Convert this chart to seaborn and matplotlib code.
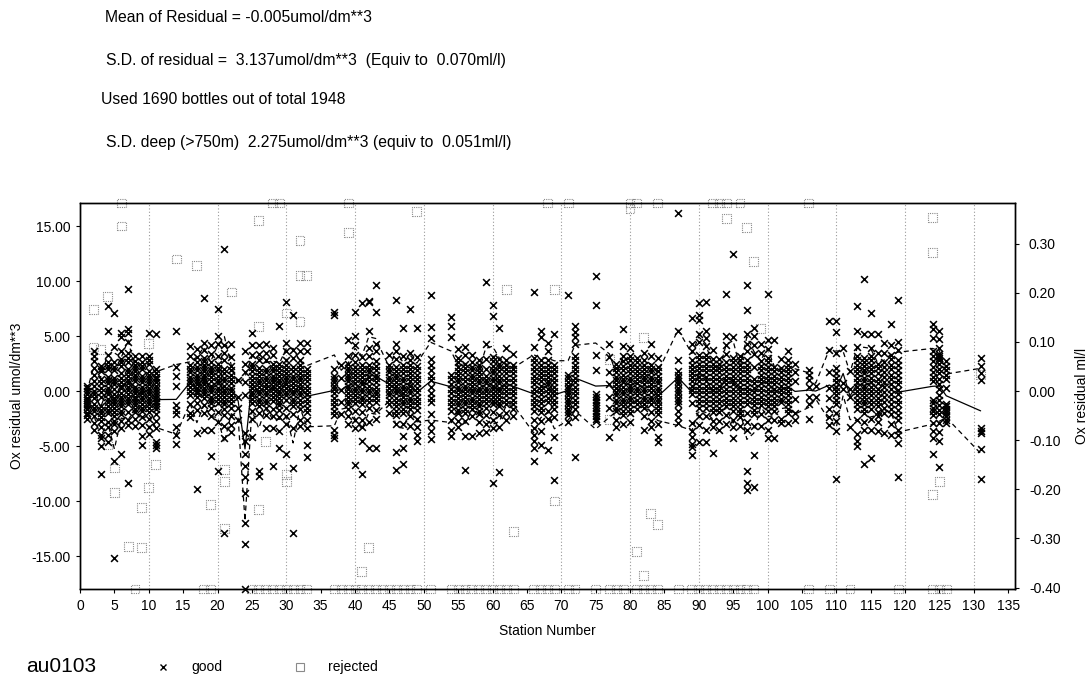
import numpy as np
import pandas as pd
import matplotlib
matplotlib.use("Agg")
import matplotlib.pyplot as plt
from matplotlib.lines import Line2D
from matplotlib.ticker import FuncFormatter
import seaborn as sns

# ---------------- header text ----------------
header_lines = [
    "Mean of Residual = -0.005umol/dm**3",
    "S.D. of residual =  3.137umol/dm**3  (Equiv to  0.070ml/l)",
    "Used 1690 bottles out of total 1948",
    "S.D. deep (>750m)  2.275umol/dm**3 (equiv to  0.051ml/l)",
]
cruise_label = "au0103"
x_label = "Station Number"
y_label_left = "Ox residual umol/dm**3"
y_label_right = "Ox residual ml/l"
UMOL_PER_ML = 44.66

# ---------------- good residuals (umol/dm**3), per station ----------------
good_stations = [1, 2, 3, 4, 5, 6, 7, 8, 9, 10, 11, 14, 16, 17, 18, 19, 20, 21, 22, 23,
                 24, 25, 26, 27, 28, 29, 30, 31, 32, 33, 37, 38, 39, 40, 41, 42, 43, 45, 46, 47,
                 48, 49, 51, 54, 55, 56, 57, 58, 59, 60, 61, 62, 63, 66, 67, 68, 69, 71, 72, 75,
                 77, 78, 79, 80, 81, 82, 83, 84, 87, 89, 90, 91, 92, 93, 94, 95, 96, 97, 98, 99,
                 100, 101, 102, 103, 104, 106, 107, 109, 110, 111, 112, 113, 114, 115, 116, 117,
                 118, 119, 124, 125, 126, 131]
good_values = [
    "0.5 -0.3 -0.8 -1.2 -1.6 -2.0 -2.5 0.0 -1.0 0.3 -0.6 -1.4 -2.2",
    "3.6 2.7 1.5 0.5 0.0 -0.6 -1.2 -1.8 -2.3 -2.9 -3.5 3.2 2.1 0.9 -0.3 -1.5",
    "2.3 1.8 1.1 0.3 -0.5 -1.4 -2.0 -2.7 -3.3 -4.0 -4.3 -5.0 -7.5 2.0 0.7 -0.1 -1.7 -2.4",
    "7.7 5.5 3.3 2.6 2.0 1.3 0.7 0.0 -0.7 -1.4 -2.0 -2.8 -3.3 -4.0 -4.6 2.3 1.0 0.3 -0.3 -1.0 -1.7",
    "7.1 4.0 2.6 1.9 1.2 0.6 0.2 -0.3 -0.9 -1.5 -2.3 -3.0 -3.6 -6.4 -15.2 2.2 0.9 -0.6 -1.2 -1.9 -2.7",
    "5.3 4.9 3.6 2.9 2.3 1.6 0.8 0.3 -0.2 -0.8 -1.4 -2.1 -2.7 -3.4 -5.7 2.6 1.2 0.5 -0.5 -1.1 -1.8",
    "9.3 5.6 5.3 4.5 3.5 2.6 2.0 1.4 0.7 0.1 -0.6 -1.2 -1.9 -2.6 -3.1 -8.4 3.0 1.7 1.0 0.4 -0.3 -0.9",
    "3.2 2.7 2.1 1.5 0.9 0.4 -0.2 -0.7 -1.3 -1.9 -2.5 -3.2 2.4 1.8 1.2 0.1 -0.5 -1.0 -1.6",
    "3.2 2.6 2.0 1.4 0.8 0.1 -0.5 -1.2 -1.8 -2.4 -3.1 -4.1 -4.9 2.3 1.1 0.4 -0.2 -0.8 -1.5",
    "5.3 3.2 2.5 1.8 1.2 0.6 0.0 -0.6 -1.2 -1.9 -2.5 -3.3 -3.9 2.8 1.5 0.9 0.3 -0.3 -0.9 -1.5",
    "5.2 2.0 1.6 1.1 0.5 -0.1 -0.6 -1.1 -1.6 -2.1 -2.7 -3.4 -4.6 -4.9 -5.2 1.3 0.8 0.2 -0.4 -0.9 -1.4",
    "5.5 2.2 1.4 0.5 -1.3 -1.7 -2.1 -3.3 -4.0 -4.8",
    "4.1 3.2 2.4 1.7 1.0 0.4 -0.4 -1.2 -2.0 -2.4 2.0 1.3 0.7 0.0",
    "3.8 3.1 2.6 1.9 1.2 0.6 0.0 -0.5 -1.1 -1.7 -3.8 -8.9 2.2 1.5 0.9 0.3 -0.2",
    "8.5 4.4 3.7 3.0 2.4 1.8 1.2 0.6 0.0 -0.6 -1.3 -2.0 -3.5 2.7 2.1 1.5 0.9 0.3 -0.3",
    "4.2 3.4 2.6 1.9 1.3 0.5 -0.1 -0.8 -1.5 -2.3 -3.5 -5.9 2.2 1.6 0.9 0.2 -0.5 -1.1",
    "7.5 5.0 4.3 3.2 2.5 1.8 1.0 0.3 -0.4 -1.1 -1.9 -2.8 -7.3 2.1 1.4 0.7 0.0 -0.7",
    "12.9 4.2 3.5 2.8 2.0 1.2 0.5 -0.2 -0.9 -1.6 -2.2 -3.2 -4.3 -12.9 1.6 0.9 0.1 -0.5 -1.2",
    "4.3 3.1 2.3 1.5 0.7 0.0 -0.7 -1.5 -2.3 -3.1 -3.7 1.9 1.1 0.3 -0.4 -1.1",
    "1.0 -0.5 -1.5 -2.6",
    "3.6 2.5 1.7 0.8 -0.4 -3.8 -4.5 -5.7 -6.8 -7.8 -9.3 -12.0 -13.9 -18.0",
    "5.3 4.2 3.3 2.5 1.8 1.0 0.3 -0.4 -1.1 -1.8 -2.5 -4.2 2.2 1.4 0.6 -0.1 -0.7",
    "4.2 3.4 2.8 2.1 1.4 0.7 0.0 -0.7 -1.4 -2.0 -7.3 -7.7 1.7 1.0 0.4 -0.3 -1.0",
    "4.3 3.5 2.8 2.0 1.3 0.6 -0.1 -0.8 -1.5 -2.2 -3.4 1.7 1.0 0.3 -0.4 -1.1",
    "3.9 3.3 2.5 1.8 1.1 0.5 -0.2 -0.9 -1.6 -2.3 -3.4 -6.8 2.1 1.4 0.8 0.2 -0.5",
    "5.9 2.5 1.7 1.0 0.4 -0.3 -1.0 -1.7 -2.4 -3.6 -5.2 2.1 1.4 0.7 0.0 -0.6 -1.3",
    "8.1 4.4 3.6 2.8 2.0 1.3 0.6 -0.1 -0.8 -1.5 -2.3 -3.0 -5.7 2.4 1.6 1.0 0.3 -0.4",
    "6.9 3.7 3.0 2.2 1.4 0.7 0.0 -0.7 -1.4 -2.1 -3.4 -7.0 -12.9 1.8 1.1 0.4 -0.3 -1.0",
    "4.4 3.6 2.8 2.0 1.3 0.6 -0.1 -0.8 -1.6 -2.6 -3.2 2.4 1.6 1.0 0.3 -0.4 -1.2",
    "4.4 3.6 2.0 1.3 0.5 -0.3 -1.1 -1.9 -2.6 -3.4 -4.9 -6.0 1.6 0.9 0.1 -0.7 -1.5",
    "7.2 6.9 2.0 1.4 0.8 0.2 -0.6 -1.4 -2.2 -3.5 -4.0 -4.3 1.1 0.5 -0.2 -1.0 -1.8",
    "2.4 1.2 0.1 -1.0 -2.1",
    "4.6 3.2 2.5 1.8 1.2 0.5 -0.2 -0.9 -1.6 -2.3 -3.0 2.1 1.5 0.9 0.2 -0.5 -1.2",
    "7.2 5.0 4.2 3.3 2.6 1.8 1.1 0.3 -0.4 -1.1 -1.8 -2.6 -3.4 -6.7 2.2 1.5 0.7 0.0 -0.7",
    "8.0 3.1 2.4 1.6 0.9 0.2 -0.5 -1.2 -1.9 -2.6 -3.3 -4.5 -7.5 2.0 1.3 0.6 -0.1 -0.8",
    "8.2 8.1 5.5 3.9 3.2 2.4 1.7 0.9 0.1 -0.6 -1.5 -2.8 -5.2 2.0 1.3 0.5 -0.2 -1.0",
    "9.6 7.2 4.3 3.6 2.7 1.9 1.2 0.4 -0.3 -1.0 -1.7 -2.5 -5.2 2.3 1.5 0.8 0.0 -0.6",
    "3.3 2.4 1.7 1.0 0.3 -0.4 -1.2 -2.0 2.0 1.3 0.6 -0.1 -0.8",
    "8.3 4.3 3.6 2.9 2.2 1.5 0.8 0.1 -0.6 -1.4 -2.2 -3.0 -5.5 -7.2 1.8 1.2 0.5 -0.2 -1.0 -1.8",
    "5.7 3.2 2.4 1.6 0.9 0.2 -0.5 -1.2 -2.0 -3.0 -4.1 -5.2 -6.6 2.0 1.2 0.5 -0.2 -0.9 -1.6",
    "7.5 3.5 2.8 2.0 1.3 0.5 -0.2 -0.9 -1.6 -2.3 -3.2 2.4 1.6 0.9 0.1 -0.6 -1.3",
    "5.7 3.1 2.3 1.5 0.7 -0.1 -0.9 -1.7 -2.5 -3.3 -4.0 -4.5 1.9 1.1 0.3 -0.5 -1.3",
    "8.7 5.8 4.8 2.9 1.9 1.0 -0.2 -1.0 -2.1 -3.0 -3.6 -4.4 2.4 1.4 0.4 -0.6",
    "6.7 5.9 4.9 1.5 0.6 -0.2 -1.0 -1.8 -2.6 -3.5 -4.1 1.1 0.2 -0.6 -1.4",
    "3.8 3.0 2.2 1.5 0.8 0.1 -0.6 -1.3 -2.0 -2.7 -3.3 2.6 1.8 1.1 0.4 -0.3 -1.0 -1.7",
    "4.0 3.3 2.5 1.7 0.9 0.2 -0.5 -1.2 -2.0 -2.7 -4.1 -7.2 2.1 1.3 0.5 -0.2 -0.9 -1.6",
    "3.3 2.6 1.9 1.2 0.5 -0.2 -0.9 -1.6 -2.3 -4.1 2.2 1.5 0.8 0.1 -0.6 -1.3",
    "2.8 2.1 1.4 0.7 0.0 -0.7 -1.4 -2.1 -2.8 -3.8 2.4 1.7 1.0 0.3 -0.4 -1.1 -1.8",
    "9.9 4.3 2.9 1.4 0.7 0.0 -0.7 -1.5 -2.2 -3.0 -3.7 2.0 1.0 0.3 -0.4 -1.1",
    "7.8 6.8 3.1 2.3 1.6 0.9 0.2 -0.5 -1.2 -1.9 -2.6 -3.4 -8.4 2.7 1.9 1.2 0.5 -0.2 -0.9",
    "5.7 2.9 2.2 1.4 0.7 0.0 -0.7 -1.4 -2.2 -3.3 -7.4 2.5 1.8 1.0 0.3 -0.4 -1.1",
    "3.9 2.8 2.0 1.2 0.4 -0.4 -1.2 -2.0 -2.6 2.4 1.6 0.8 0.0 -0.8",
    "3.4 2.4 1.6 0.8 0.0 -0.8 -1.6 -2.3 2.0 1.2 0.4 -0.4 -1.2",
    "9.0 4.0 3.0 2.2 1.4 0.6 -0.2 -1.0 -1.8 -2.6 -3.4 -4.0 -4.5 -5.2 -6.4 2.6 1.8 1.0 0.2 -0.6 -1.4",
    "5.5 4.9 2.8 2.0 1.3 0.5 -0.3 -1.1 -1.9 -2.7 -3.6 -4.9 2.4 1.6 0.9 0.1 -0.7 -1.5",
    "4.4 3.6 2.8 2.0 1.3 0.6 -0.2 -1.0 -1.8 -2.5 -5.4 2.4 1.6 0.9 0.2 -0.6",
    "5.2 2.4 1.6 0.8 0.0 -0.8 -1.6 -2.4 -4.2 -8.1 2.0 1.2 0.4 -0.4 -1.2",
    "8.7 1.5 0.8 0.2 -0.4 -1.0 -1.6 -2.2 -2.8 1.2 0.5 -0.1 -0.7 -1.3 -1.9",
    "5.9 5.4 4.9 4.3 3.2 2.4 1.6 0.8 0.0 -0.8 -1.6 -2.4 -6.0 2.8 2.0 1.2 0.4 -0.4 -1.2",
    "10.5 7.8 3.3 1.9 -0.3 -0.8 -1.3 -1.8 -2.3 -2.7 -0.5 -1.0 -1.5 -2.0 -2.5",
    "4.3 3.1 1.7 0.6 -0.5 -1.5 -4.2",
    "2.5 1.7 1.0 0.3 -0.4 -1.1 -1.8 -2.6 -3.3 2.1 1.3 0.6 -0.1 -0.8 -1.5",
    "5.6 4.1 3.2 2.3 1.5 0.8 0.0 -0.7 -1.4 -2.2 -3.0 2.7 1.9 1.1 0.4 -0.3 -1.0 -1.8",
    "3.9 3.2 2.4 1.6 0.9 0.2 -0.5 -1.2 -2.0 -2.8 2.8 2.0 1.2 0.5 -0.1 -0.8 -1.6",
    "3.0 2.2 1.5 0.7 0.0 -0.8 -1.6 2.6 1.8 1.1 0.3 -0.4 -1.2",
    "3.5 2.8 2.0 1.3 0.6 -0.1 -0.8 -1.5 -2.3 -3.5 2.4 1.6 1.0 0.2 -0.5 -1.2",
    "4.3 3.2 2.4 1.7 1.0 0.3 -0.5 -1.2 -1.9 -2.7 -3.3 2.0 1.3 0.6 -0.1 -0.8",
    "3.0 2.2 1.4 0.7 0.0 -0.7 -1.4 -2.1 -3.0 -4.2 -4.6 1.8 1.0 0.3 -0.4 -1.0 -1.7",
    "16.2 5.5 2.8 1.8 1.2 0.6 0.0 -0.6 -1.2 -1.8 -2.4 -2.9 1.5 0.9 0.3 -0.3 -0.9",
    "6.6 4.3 3.6 2.8 2.0 1.3 0.5 -0.3 -1.1 -2.9 -3.6 -4.2 -4.8 -5.1 -5.8 2.4 1.6 0.9 0.1",
    "8.0 6.9 6.5 5.2 4.5 3.3 2.5 1.7 0.9 0.1 -0.7 -1.5 -2.3 -3.1 -4.6 2.9 2.1 1.3 0.5 -0.3 -1.1",
    "8.1 5.5 4.8 4.1 3.3 2.5 1.7 0.9 0.1 -0.7 -1.5 -2.3 -3.5 -4.6 2.9 2.1 1.3 0.5 -0.3 -1.1",
    "3.7 2.9 2.1 1.3 0.5 -0.3 -1.1 -1.9 -2.7 -3.3 -5.6 2.5 1.7 0.9 0.1 -0.7 -1.5",
    "2.9 2.1 1.3 0.5 -0.3 -1.1 -1.9 -2.7 -3.5 2.5 1.7 0.9 0.1 -0.7 -1.5",
    "8.8 5.0 4.2 3.4 2.6 1.8 1.0 0.2 -0.6 -1.4 -2.2 -3.0 2.2 1.4 0.6 -0.2 -1.0",
    "12.5 4.9 3.0 2.2 1.4 0.6 -0.2 -1.0 -1.8 -2.6 -3.3 -4.3 2.6 1.8 1.0 0.2 -0.6 -1.4",
    "3.2 2.4 1.6 0.8 0.0 -0.8 -1.6 -2.4 -3.2 2.8 2.0 1.2 0.4 -0.4 -1.2 -2.0",
    "9.6 7.4 5.2 4.3 3.6 2.8 2.0 1.2 0.4 -0.4 -1.2 -2.0 -2.8 -3.5 -7.3 -8.4 -9.0 2.4 1.6 0.8 0.0 -0.8",
    "5.7 5.0 4.2 3.4 1.1 0.3 -0.5 -1.3 -2.1 -3.2 -5.8 -8.7 2.2 0.7 -0.1 -0.9 -1.7",
    "4.3 3.5 2.7 1.9 1.1 0.3 -0.5 -1.3 -2.1 -3.2 2.3 1.5 0.7 -0.1 -0.9",
    "8.8 4.6 3.8 3.0 2.2 1.4 0.6 -0.2 -1.0 -1.8 -2.6 -3.5 -4.3 2.6 1.8 1.0 0.2 -0.6 -1.4",
    "4.6 2.2 1.4 0.6 -0.2 -1.0 -1.8 -2.6 -4.3 1.8 1.0 0.2 -0.6 -1.4",
    "2.9 2.1 1.3 0.5 -0.3 -1.0 -2.5 -2.9 1.7 0.9 0.1 -0.7",
    "3.6 2.8 2.0 1.2 0.4 -0.4 -1.2 -2.0 -2.9 2.4 1.6 0.8 0.0 -0.8 -1.6",
    "2.5 1.7 0.9 -0.7 -2.0 -2.6",
    "1.9 1.5 1.0 0.4 -0.5 -1.2 -2.5",
    "0.5 -0.5",
    "6.4 3.7 1.7 0.3 -0.6 -1.6 -2.4 -3.1",
    "6.4 5.4 3.5 2.1 1.2 0.4 -0.4 -1.2 -2.0 -2.7 -3.6 -8.0 1.6 0.8 0.0 -0.8",
    "3.9 0.7 0.2",
    "1.8 0.2 -0.5 -3.3",
    "7.7 5.5 4.0 3.2 2.4 1.6 0.8 0.0 -0.8 -1.6 -2.6 -3.9 -4.5 -5.0 2.8 2.0 1.2 0.4 -0.4 -1.2",
    "10.2 5.2 3.0 2.3 1.6 0.9 0.2 -0.5 -1.2 -2.0 -2.8 -3.5 -6.6 2.6 1.9 1.2 0.5 -0.2 -0.9 -1.6",
    "7.1 5.2 3.9 3.2 2.4 1.6 0.8 0.0 -0.8 -1.6 -2.5 -3.5 -6.1 2.8 2.0 1.2 0.4 -0.4 -1.2",
    "5.2 3.5 2.5 1.6 0.7 -0.2 -1.0 -1.9 -2.8 -3.6 2.1 1.1 0.2 -0.6 -1.4 -2.3",
    "4.4 3.5 2.6 1.7 0.8 -0.1 -1.0 -2.0 -3.8 2.2 1.3 0.4 -0.5 -1.5",
    "6.1 4.2 3.3 2.4 1.5 0.6 -0.3 -1.2 -2.1 -3.0 -4.0 2.9 2.0 1.1 0.2 -0.7 -1.6",
    "8.3 4.5 3.7 2.8 1.9 1.0 0.1 -0.8 -1.7 -2.6 -3.5 -4.0 -4.7 -7.8 2.4 1.5 0.6 -0.3 -1.2 -2.2",
    "6.1 5.6 4.8 3.6 2.7 1.7 0.9 -0.8 -1.5 -2.2 -2.9 -3.6 -4.3 -5.7 3.2 2.2 1.3 -1.1 -1.8",
    "5.5 4.7 3.9 3.4 3.0 2.5 1.6 0.6 -0.4 -1.3 -2.1 -2.9 -3.7 -4.5 -6.9 3.2 2.8 2.0 1.1 0.2 -0.8 -1.7",
    "2.7 1.9 1.1 0.3 -1.2 -1.6 -2.0 -2.6 -2.9 2.3 1.5 -1.4 -1.8 -2.3",
    "3.0 2.3 1.6 1.0 -3.4 -3.6 -3.8 -5.3 -8.0",
]

# ---------------- rejected residuals ----------------
rej_stations = [2, 2, 3, 4, 6, 4, 5, 5, 7, 9, 9, 10, 11, 10, 14, 17, 22, 26, 26, 21,
                21, 19, 21, 26, 27, 32, 32, 33, 30, 32, 39, 49, 30, 30, 42, 41, 62, 69, 77, 82,
                99, 63, 69, 81, 83, 84, 82, 94, 97, 98, 80, 124, 124, 125, 124, 131, 77]
rej_values = [7.4, 4.0, 3.8, 8.6, 15.0, -4.9, -7.0, -9.2, -14.1, -14.2, -10.6, -8.8, -6.7, 4.3,
              12.0, 11.4, 9.0, 15.5, 5.9, -7.1, -8.2, -10.3, -12.5, -10.8, -4.6, 13.7, 10.5,
              10.5, 7.1, 6.3, 14.4, 16.3, -7.6, -8.2, -14.2, -16.4, 9.2, 9.2, 2.9, 4.9, 5.7,
              -12.8, -10.0, -14.6, -11.1, -12.1, -16.8, 15.7, 14.9, 11.8, 16.6, 15.8, 12.6,
              -8.2, -9.4, 1.5, -2.6]
# rejected bottles off the top / bottom of the plotted range (drawn on the frame)
rej_top_stations = [6, 28, 29, 39, 68, 71, 80, 81, 84, 92, 93, 94, 96, 106]
rej_bottom_stations = [8, 18, 19, 25, 26, 27, 28, 29, 30, 31, 32, 33, 37, 38, 39, 40, 41, 42,
                       43, 44, 45, 46, 47, 48, 49, 51, 54, 55, 56, 57, 58, 59, 60, 61, 62, 63,
                       66, 67, 68, 69, 71, 72, 75, 77, 78, 79, 81, 82, 83, 84, 87, 89, 90, 91,
                       92, 93, 94, 95, 96, 97, 98, 106, 109, 112, 119, 124, 125, 126]

Y_MIN, Y_MAX = -18.0, 17.1
X_MIN, X_MAX = 0, 136

# ---------------- build tables ----------------
rows = []
for st, vals in zip(good_stations, good_values):
    for v in vals.split():
        rows.append((st, float(v)))
good = pd.DataFrame(rows, columns=["station", "resid"])

assert len(rej_stations) == len(rej_values)
assert len(good_stations) == len(good_values)
rej = pd.DataFrame({
    "station": rej_stations + rej_top_stations + rej_bottom_stations,
    "resid": rej_values + [np.inf] * len(rej_top_stations) + [-np.inf] * len(rej_bottom_stations),
})
rej["resid"] = rej["resid"].clip(Y_MIN, Y_MAX)

summ = good.groupby("station")["resid"].agg(["mean", "std"]).reset_index()
summ["std"] = summ["std"].fillna(0)
summ["upper"] = summ["mean"] + summ["std"]
summ["lower"] = summ["mean"] - summ["std"]


def fmt2(v, pos=None):
    if abs(v) < 1e-9:
        v = 0.0
    return f"{v:.2f}"


# ---------------- figure ----------------
sns.set_style("ticks")
plt.rcParams["font.family"] = ["Liberation Sans", "DejaVu Sans"]
plt.rcParams["axes.linewidth"] = 1.0
for key in ["text.color", "axes.labelcolor", "xtick.color", "ytick.color", "axes.edgecolor"]:
    plt.rcParams[key] = "black"

W, H = 1091, 680
fig = plt.figure(figsize=(W / 100, H / 100), dpi=100)
ax = fig.add_axes([80 / W, 91 / H, 935 / W, 386 / H])

for s in range(10, 131, 10):
    ax.axvline(s, color="#9a9a9a", lw=0.8, ls=(0, (1, 2)), zorder=0)

ax.scatter(rej["station"], rej["resid"], marker="s", s=40, facecolors="none",
           edgecolors="#8a8a8a", linewidths=0.8, linestyle=(0, (1, 1)), clip_on=False, zorder=2)

sns.scatterplot(data=good, x="station", y="resid", marker="x", color="black", s=24,
                linewidth=1.15, ax=ax, legend=False, clip_on=False, zorder=3)

sns.lineplot(data=summ, x="station", y="mean", color="black", lw=0.9, ax=ax,
             estimator=None, legend=False, zorder=4)
for col in ["upper", "lower"]:
    sns.lineplot(data=summ, x="station", y=col, color="black", lw=0.9, ax=ax,
                 estimator=None, legend=False, zorder=4, linestyle=(0, (4, 3)))

ax.set_xlim(X_MIN, X_MAX)
ax.set_ylim(Y_MIN, Y_MAX)
ax.set_xticks(range(0, 136, 5))
ax.set_yticks(range(-15, 16, 5))
ax.yaxis.set_major_formatter(FuncFormatter(fmt2))
ax.tick_params(axis="both", direction="out", length=3, width=0.8, labelsize=10, color="black")
ax.tick_params(axis="x", pad=4)
ax.tick_params(axis="y", pad=4)
for sp in ax.spines.values():
    sp.set_visible(True)
    sp.set_color("black")

ax.set_xlabel(x_label, fontsize=10, labelpad=0)
ax.xaxis.set_label_coords((547 - 80) / 935, -(624 - 589) / 386)
ax.set_ylabel(y_label_left, fontsize=10)
ax.yaxis.set_label_coords((24 - 80) / 935, 0.5)

ax2 = ax.twinx()
ax2.set_ylim(Y_MIN / UMOL_PER_ML, Y_MAX / UMOL_PER_ML)
ax2.set_yticks(np.round(np.arange(-0.4, 0.31, 0.1), 2))
ax2.yaxis.set_major_formatter(FuncFormatter(fmt2))
ax2.tick_params(axis="y", direction="out", length=3, width=0.8, labelsize=10, pad=7)
ax2.set_ylabel(y_label_right, fontsize=10)
ax2.yaxis.set_label_coords((1075 - 80) / 935, 0.5)

# header text
for txt, (px, py) in zip(header_lines, [(105, 18), (106, 60), (101, 100), (106, 143)]):
    fig.text(px / W, 1 - py / H, txt, fontsize=11.3, va="center", ha="left")

# bottom legend
fig.text(26 / W, 1 - 667 / H, cruise_label, fontsize=15, va="center", ha="left")
fig.add_artist(Line2D([163 / W], [1 - 667 / H], marker="x", color="black", ms=4.2, mew=1.0,
                      ls="none", transform=fig.transFigure))
fig.text(191 / W, 1 - 667 / H, "good", fontsize=10, va="center", ha="left")
fig.add_artist(Line2D([300 / W], [1 - 667 / H], marker="s", mfc="none", mec="#8a8a8a", ms=6,
                      mew=0.8, ls="none", transform=fig.transFigure))
fig.text(328 / W, 1 - 667 / H, "rejected", fontsize=10, va="center", ha="left")

fig.savefig("out.png", dpi=100)
